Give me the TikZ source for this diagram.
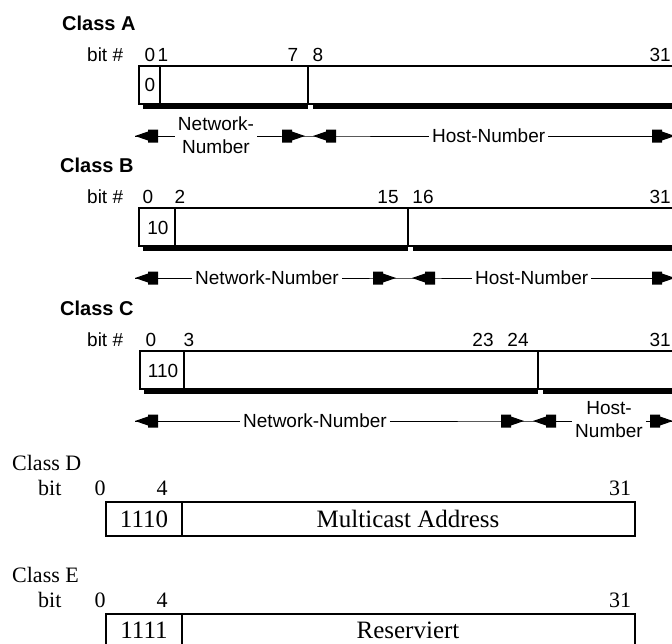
\documentclass[tikz,border=0pt]{standalone}
\usepackage{fontspec}
\setmainfont{Liberation Serif}
\newfontfamily\geneva{Liberation Sans}
\begin{document}
\begin{tikzpicture}[x=1pt,y=-1pt,
  sanslbl/.style={font=\geneva\fontsize{19}{22}\selectfont, inner sep=0pt},
  classlbl/.style={font=\geneva\bfseries\fontsize{20}{24}\selectfont, anchor=west, inner sep=0pt},
  dimtxt/.style={font=\geneva\fontsize{19}{23}\selectfont, align=center, inner sep=3pt},
  dimline/.style={line width=1pt},
  thinbox/.style={line width=1.4pt},
  serif/.style={font=\fontsize{22}{26}\selectfont, inner sep=0pt},
  boxtxt/.style={font=\fontsize{25}{28}\selectfont, inner sep=0pt},
  thickbox/.style={line width=2.6pt},
  lhead/.pic={\fill (0,0) -- (13,-4.5) -- (13,-6.5) -- (23,-6.5) -- (23,6.5) -- (13,6.5) -- (13,4.5) -- cycle;},
  rhead/.pic={\fill (0,0) -- (-13,-4.5) -- (-13,-6.5) -- (-23,-6.5) -- (-23,6.5) -- (-13,6.5) -- (-13,4.5) -- cycle;},
]
\useasboundingbox (0,0) rectangle (672,643);

% ---------------- Class A ----------------
\node[classlbl] (clsA) at (62,23) {Class A};
\node[sanslbl, anchor=west] (bitA) at (87,55) {bit \#};
\node[sanslbl] (a0) at (150,55) {0};
\node[sanslbl] (a1) at (163,55) {1};
\node[sanslbl] (a7) at (293,55) {7};
\node[sanslbl] (a8) at (318,55) {8};
\node[sanslbl, anchor=east] (a31) at (671,55) {31};
\draw[thinbox] (690,66) -- (139,66) -- (139,104) -- (690,104);
\draw[thinbox] (160,66) -- (160,104);
\draw[thinbox] (308,66) -- (308,104);
\fill (143,103.5) rectangle (308,109);
\fill (313,103.5) rectangle (690,109);
\node[sanslbl] (aval) at (150,85) {0};
\coordinate (aL) at (135,136);
\node[dimtxt] (anet) at (216,135) {Network-\\Number};
\coordinate (aM1) at (305,136);
\coordinate (aM2) at (313,136);
\node[dimtxt, anchor=west] (ahost) at (429,136) {Host-Number};
\coordinate (aR) at (675,136);
\draw[dimline] (aL) -- (anet.west |- aL);
\draw[dimline] (anet.east |- aL) -- (aM1) -- (aM2) -- (ahost.west);
\draw[dimline] (ahost.east) -- (aR);
\pic at (aL) {lhead}; \pic at (aM1) {rhead}; \pic at (aM2) {lhead}; \pic at (aR) {rhead};

% ---------------- Class B ----------------
\node[classlbl] (clsB) at (60,165) {Class B};
\node[sanslbl, anchor=west] (bitB) at (87,197) {bit \#};
\node[sanslbl] (b0) at (148,197) {0};
\node[sanslbl] (b2) at (180,197) {2};
\node[sanslbl] (b15) at (388,197) {15};
\node[sanslbl] (b16) at (423,197) {16};
\node[sanslbl, anchor=east] (b31) at (671,197) {31};
\draw[thinbox] (690,208) -- (139,208) -- (139,246) -- (690,246);
\draw[thinbox] (175,208) -- (175,246);
\draw[thinbox] (408,208) -- (408,246);
\fill (143,245.5) rectangle (408,251);
\fill (413,245.5) rectangle (690,251);
\node[sanslbl] (bval) at (158,228) {10};
\coordinate (bL) at (135,278);
\node[dimtxt, anchor=west] (bnet) at (192,278) {Network-Number};
\coordinate (bM1) at (396,278);
\coordinate (bM2) at (412,278);
\node[dimtxt, anchor=west] (bhost) at (472,278) {Host-Number};
\coordinate (bR) at (675,278);
\draw[dimline] (bL) -- (bnet.west);
\draw[dimline] (bnet.east) -- (bM1) -- (bM2) -- (bhost.west);
\draw[dimline] (bhost.east) -- (bR);
\pic at (bL) {lhead}; \pic at (bM1) {rhead}; \pic at (bM2) {lhead}; \pic at (bR) {rhead};

% ---------------- Class C ----------------
\node[classlbl] (clsC) at (60,308) {Class C};
\node[sanslbl, anchor=west] (bitC) at (87,340) {bit \#};
\node[sanslbl] (c0) at (151,340) {0};
\node[sanslbl] (c3) at (189,340) {3};
\node[sanslbl] (c23) at (483,340) {23};
\node[sanslbl] (c24) at (518,340) {24};
\node[sanslbl, anchor=east] (c31) at (671,340) {31};
\draw[thinbox] (690,351) -- (140,351) -- (140,389) -- (690,389);
\draw[thinbox] (184,351) -- (184,389);
\draw[thinbox] (538,351) -- (538,389);
\fill (144,388.5) rectangle (538,394);
\fill (543,388.5) rectangle (690,394);
\node[sanslbl] (cval) at (163,371) {110};
\coordinate (cL) at (135,421);
\node[dimtxt, anchor=west] (cnet) at (240,421) {Network-Number};
\coordinate (cM1) at (524,421);
\coordinate (cM2) at (533,421);
\node[dimtxt] (chost) at (609,420) {Host-\\Number};
\coordinate (cR) at (673,421);
\draw[dimline] (cL) -- (cnet.west);
\draw[dimline] (cnet.east) -- (cM1) -- (cM2) -- (chost.west |- cM2);
\draw[dimline] (chost.east |- cR) -- (cR);
\pic at (cL) {lhead}; \pic at (cM1) {rhead}; \pic at (cM2) {lhead}; \pic at (cR) {rhead};

% ---------------- Class D ----------------
\node[serif, anchor=west] (clsD) at (12,463) {Class D};
\node[serif, anchor=west] (bitD) at (38,488) {bit};
\node[serif] (d0) at (100,488) {0};
\node[serif] (d4) at (162,488) {4};
\node[serif] (d31) at (620,488) {31};
\draw[thickbox] (106,502) rectangle (635,536);
\draw[thickbox] (182,502) -- (182,536);
\node[boxtxt] (dval) at (144,519) {1110};
\node[boxtxt] (dtxt) at (408,519) {Multicast Address};

% ---------------- Class E ----------------
\node[serif, anchor=west] (clsE) at (12,575) {Class E};
\node[serif, anchor=west] (bitE) at (38,600) {bit};
\node[serif] (e0) at (100,600) {0};
\node[serif] (e4) at (162,600) {4};
\node[serif] (e31) at (620,600) {31};
\draw[thickbox] (106,614) rectangle (635,648);
\draw[thickbox] (182,614) -- (182,648);
\node[boxtxt] (eval) at (144,630) {1111};
\node[boxtxt] (etxt) at (408,630) {Reserviert};
\end{tikzpicture}
\end{document}
